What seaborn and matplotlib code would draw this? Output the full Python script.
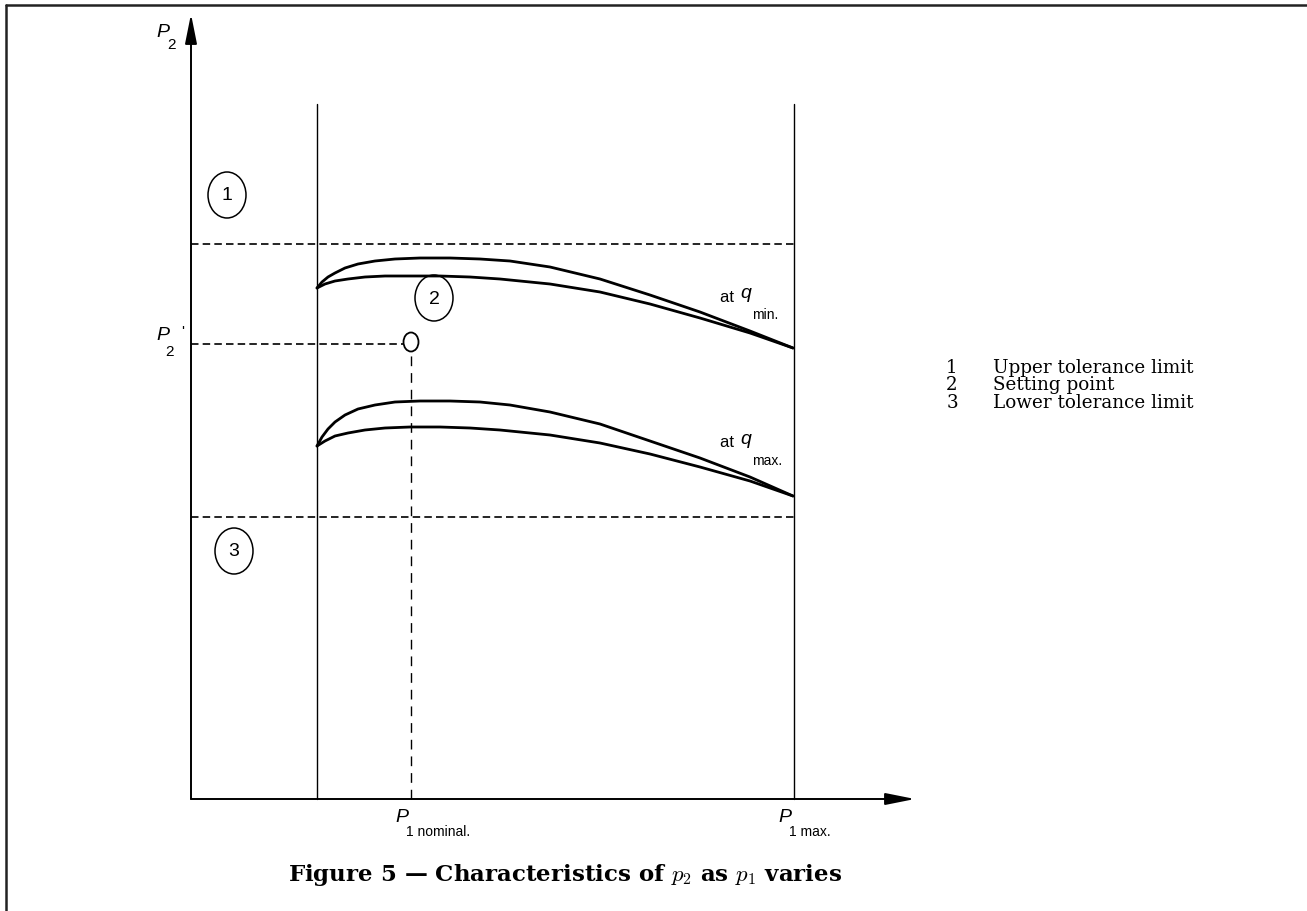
"""
Figure 5 - Characteristics of p2 as p1 varies
Pressure regulator characteristic sketch redrawn with seaborn / matplotlib.
"""
import matplotlib
matplotlib.use("Agg")
import matplotlib.pyplot as plt
from matplotlib.patches import Ellipse
from matplotlib.lines import Line2D
import seaborn as sns

# ==========================================
# DATA (arbitrary units)
# ==========================================
# p1 positions of the vertical reference lines
p1_min = 126
p1_nominal = 220
p1_max = 603
p1_axis_end = 724

# p2 levels of the horizontal reference lines
p2_upper_tol = 555
p2_lower_tol = 282
p2_setting = 455
p2_axis_end = 785
p2_frame_top = 695

# characteristic at q min. (two branches)
qmin_upper_p1 = [126, 131, 137, 144, 154, 167, 184, 204, 229, 259, 289, 319, 359, 409, 459, 509, 559, 602]
qmin_upper_p2 = [511, 517, 522, 526, 531, 535, 538, 540, 541, 541, 540, 538, 532, 520, 504, 487, 468, 451]
qmin_lower_p1 = [126, 134, 144, 157, 174, 194, 219, 249, 279, 309, 359, 409, 459, 509, 559, 602]
qmin_lower_p2 = [511, 515, 518, 520, 522, 523, 523, 523, 522, 520, 515, 507, 495, 481, 466, 451]

# characteristic at q max. (two branches)
qmax_upper_p1 = [126, 131, 137, 144, 154, 167, 184, 204, 229, 259, 289, 319, 359, 409, 459, 509, 559, 602]
qmax_upper_p2 = [353, 362, 370, 377, 384, 390, 394, 397, 398, 398, 397, 394, 387, 375, 358, 341, 322, 303]
qmax_lower_p1 = [126, 134, 144, 157, 174, 194, 219, 249, 279, 309, 359, 409, 459, 509, 559, 602]
qmax_lower_p2 = [353, 358, 363, 366, 369, 371, 372, 372, 371, 369, 364, 356, 345, 332, 318, 303]

# numbered callouts and legend
callout_labels = ["1", "2", "3"]
callout_p1 = [36, 243, 43]
callout_p2 = [604, 501, 248]
legend_texts = ["Upper tolerance limit", "Setting point", "Lower tolerance limit"]

caption = r"Figure 5 — Characteristics of $p_2$ as $p_1$ varies"

# ==========================================
# STYLE
# ==========================================
sns.set_theme(style="white")
plt.rcParams["font.family"] = ["Liberation Sans", "DejaVu Sans"]
plt.rcParams["mathtext.fontset"] = "cm"
plt.rcParams["text.color"] = "black"

W, H = 1307, 912
fig = plt.figure(figsize=(W / 100, H / 100), dpi=100)
ax = fig.add_axes([0, 0, 1, 1])
# one data unit ~ one pixel, origin at the arrow axes crossing
ax.set_xlim(-191, W - 191)
ax.set_ylim(-(H - 800), 800)
ax.axis("off")

dash = (0, (4.5, 2.5))
sans = ["Liberation Sans", "DejaVu Sans"]
serif = ["DejaVu Serif"]

# ==========================================
# AXES ARROWS
# ==========================================
arrow = dict(arrowstyle="-|>,head_length=1.5,head_width=0.3", lw=1.4,
             color="black", shrinkA=0, shrinkB=0)
ax.annotate("", xy=(0, p2_axis_end), xytext=(0, 0), arrowprops=arrow)
ax.annotate("", xy=(p1_axis_end, 0), xytext=(0, 0), arrowprops=arrow)

# ==========================================
# REFERENCE LINES
# ==========================================
ax.plot([p1_min, p1_min], [0, p2_frame_top], color="black", lw=1.0)
ax.plot([p1_max, p1_max], [0, p2_frame_top], color="black", lw=1.0)
ax.plot([0, p1_max], [p2_upper_tol, p2_upper_tol], color="black", lw=1.2, ls=dash)
ax.plot([0, p1_max], [p2_lower_tol, p2_lower_tol], color="black", lw=1.2, ls=dash)
ax.plot([0, p1_nominal - 8], [p2_setting, p2_setting], color="black", lw=1.2, ls=dash)
ax.plot([p1_nominal, p1_nominal], [0, p2_setting - 10], color="black", lw=1.0,
        ls=(0, (7, 5)))

# setting point
ax.add_patch(Ellipse((p1_nominal, p2_setting + 2), 15, 19, fill=False,
                     edgecolor="black", lw=1.3))

# ==========================================
# CHARACTERISTIC CURVES
# ==========================================
for xs, ys in [(qmin_upper_p1, qmin_upper_p2), (qmin_lower_p1, qmin_lower_p2),
               (qmax_upper_p1, qmax_upper_p2), (qmax_lower_p1, qmax_lower_p2)]:
    sns.lineplot(x=xs, y=ys, sort=False, estimator=None, color="black",
                 lw=2.0, ax=ax)

# ==========================================
# CALLOUTS
# ==========================================
for lab, cx, cy in zip(callout_labels, callout_p1, callout_p2):
    ax.add_patch(Ellipse((cx, cy), 38, 46, fill=False, edgecolor="black", lw=1.1))
    ax.text(cx, cy, lab, ha="center", va="center", fontsize=14, family=sans)

# ==========================================
# AXIS LABELS
# ==========================================
ax.text(-28, 768, "P", fontsize=14, style="italic", ha="center", va="center", family=sans)
ax.text(-20, 755, "2", fontsize=11, ha="center", va="center", family=sans)
ax.text(-28, 464, "P", fontsize=14, style="italic", ha="center", va="center", family=sans)
ax.text(-21, 448, "2", fontsize=11, ha="center", va="center", family=sans)
ax.text(-8, 468, "'", fontsize=11, ha="center", va="center", family=sans)

ax.text(p1_nominal - 9, -18, "P", fontsize=14, style="italic", ha="center", va="center", family=sans)
ax.text(p1_nominal - 5, -32, "1 nominal.", fontsize=10, ha="left", va="center", family=sans)
ax.text(p1_max - 9, -18, "P", fontsize=14, style="italic", ha="center", va="center", family=sans)
ax.text(p1_max - 5, -32, "1 max.", fontsize=10, ha="left", va="center", family=sans)

ax.text(529, 503, "at ", fontsize=12, ha="left", va="center", family=sans)
ax.text(549, 506, "q", fontsize=14, style="italic", ha="left", va="center", family=sans)
ax.text(561, 485, "min.", fontsize=10, ha="left", va="center", family=sans)
ax.text(529, 357, "at ", fontsize=12, ha="left", va="center", family=sans)
ax.text(549, 360, "q", fontsize=14, style="italic", ha="left", va="center", family=sans)
ax.text(561, 339, "max.", fontsize=10, ha="left", va="center", family=sans)

# ==========================================
# LEGEND (plain text key) AND CAPTION
# ==========================================
for i, (lab, txt) in enumerate(zip(callout_labels, legend_texts)):
    y = 432 - i * 17.5
    ax.text(761, y, lab, fontsize=13.2, ha="center", va="center", family=serif)
    ax.text(802, y, txt, fontsize=13.2, ha="left", va="center", family=serif)

fig.text(565 / W, 1 - 875 / H, caption, fontsize=16.5, fontweight="bold",
         ha="center", va="center", family=serif)

# page frame (top and left edges)
fig.add_artist(Line2D([6 / W, 1], [1 - 6 / H, 1 - 6 / H], transform=fig.transFigure,
                      color="#222222", lw=1.8))
fig.add_artist(Line2D([6 / W, 6 / W], [0, 1 - 6 / H], transform=fig.transFigure,
                      color="#222222", lw=1.8))

fig.savefig("out.png", dpi=100, facecolor="white")
